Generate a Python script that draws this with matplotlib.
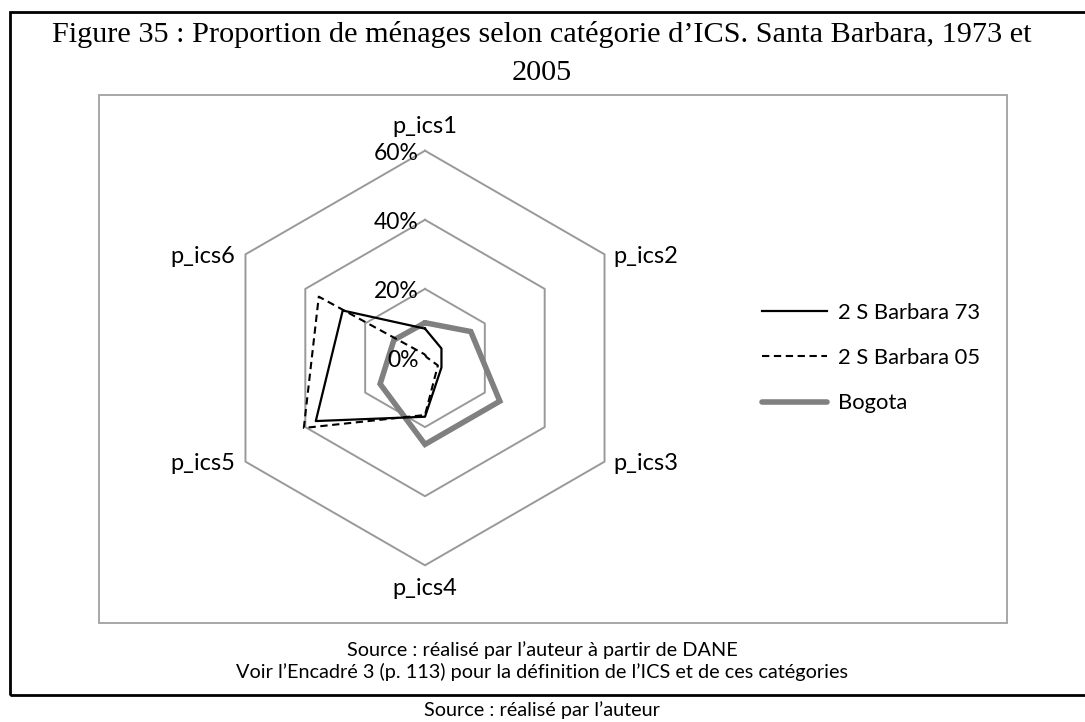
import numpy as np
import matplotlib
matplotlib.use("Agg")
import matplotlib.pyplot as plt
from matplotlib.patches import Rectangle

# ---- data ----
categories = ["p_ics1", "p_ics2", "p_ics3", "p_ics4", "p_ics5", "p_ics6"]
sb73 = [8.5, 5.5, 5.5, 17.0, 36.5, 27.5]
sb05 = [1.0, 0.5, 4.3, 16.5, 40.5, 35.5]
bogota = [10.2, 15.3, 25.0, 25.0, 15.0, 10.4]
series_names = ["2 S Barbara 73", "2 S Barbara 05", "Bogota"]
ring_levels = [20, 40, 60]
tick_levels = [0, 20, 40, 60]
tick_labels = ["0%", "20%", "40%", "60%"]

title = "Figure 35 : Proportion de ménages selon catégorie d\u2019ICS. Santa Barbara, 1973 et\n2005"
note1 = "Source : réalisé par l\u2019auteur à partir de DANE"
note2 = "Voir l\u2019Encadré 3 (p. 113) pour la définition de l\u2019ICS et de ces catégories"
note3 = "Source : réalisé par l\u2019auteur"

W, H = 1085, 722
fig = plt.figure(figsize=(W / 100, H / 100), dpi=100)
fig.patch.set_facecolor("white")

SANS = ["Lato", "DejaVu Sans"]
SERIF = ["Liberation Serif", "DejaVu Serif"]


def fx(x):
    return x / W


def fy(y):
    return 1 - y / H


# outer black frame (right edge runs off the picture)
fig.patches.append(Rectangle((fx(10), fy(695)), fx(1100) - fx(10), fy(12) - fy(695),
                             transform=fig.transFigure, fill=False, edgecolor="black",
                             linewidth=2.0, zorder=0))
# gray chart area border
fig.patches.append(Rectangle((fx(99), fy(623)), fx(1007) - fx(99), fy(95) - fy(623),
                             transform=fig.transFigure, fill=False, edgecolor="#a0a0a0",
                             linewidth=1.3, zorder=0))

# title and notes
fig.text(fx(542), fy(53), title, ha="center", va="center", fontsize=21.8,
         family=SERIF, color="black", linespacing=1.6)
fig.text(fx(542), fy(650), note1, ha="center", va="center", fontsize=14.3, family=SANS)
fig.text(fx(542), fy(672), note2, ha="center", va="center", fontsize=14.3, family=SANS)
fig.text(fx(542), fy(710), note3, ha="center", va="center", fontsize=14.3, family=SANS)

# radar axes
cx, cy = 425, 358
scale = 207.3 / 60.0  # pixels per percent
half = 250
R = half / scale
ax = fig.add_axes([fx(cx - half), fy(cy + half), 2 * half / W, 2 * half / H])
ax.set_xlim(-R, R)
ax.set_ylim(-R, R)
ax.axis("off")

n = len(categories)
theta = np.arange(n) * 2 * np.pi / n


def xy(vals):
    v = np.asarray(vals, dtype=float)
    x = v * np.sin(theta)
    y = v * np.cos(theta)
    return np.append(x, x[0]), np.append(y, y[0])


for lvl in ring_levels:
    x, y = xy([lvl] * n)
    ax.plot(x, y, color="#999999", lw=1.4, zorder=1)

for lvl, lab in zip(tick_levels, tick_labels):
    ax.text(-1.9, lvl - 0.8, lab, ha="right", va="center", fontsize=16.5, family=SANS)

# category labels
off = 60
for i, cat in enumerate(categories):
    vx, vy = off * np.sin(theta[i]), off * np.cos(theta[i])
    if i == 0:
        ax.text(vx, vy + 7.0, cat, ha="center", va="center", fontsize=17, family=SANS)
    elif i == 3:
        ax.text(vx, vy - 6.7, cat, ha="center", va="center", fontsize=17, family=SANS)
    elif i in (1, 2):
        ax.text(vx + 2.6, vy - 0.6, cat, ha="left", va="center", fontsize=17, family=SANS)
    else:
        ax.text(vx - 3.0, vy - 0.6, cat, ha="right", va="center", fontsize=17, family=SANS)

x, y = xy(sb73)
l1, = ax.plot(x, y, color="black", lw=1.6, zorder=3, label=series_names[0])
x, y = xy(sb05)
l2, = ax.plot(x, y, color="black", lw=1.5, ls=(0, (3.5, 2.2)), zorder=3, label=series_names[1])
x, y = xy(bogota)
l3, = ax.plot(x, y, color="#808080", lw=4.0, zorder=2, label=series_names[2],
              solid_joinstyle="miter", solid_capstyle="round")

fig.legend(handles=[l1, l2, l3], loc="center left",
           bbox_to_anchor=(fx(762), fy(358)), frameon=False, prop={"family": SANS, "size": 15.8},
           handlelength=2.95, handletextpad=0.5, labelspacing=1.15, borderpad=0, borderaxespad=0)

fig.savefig("out.png", dpi=100)
